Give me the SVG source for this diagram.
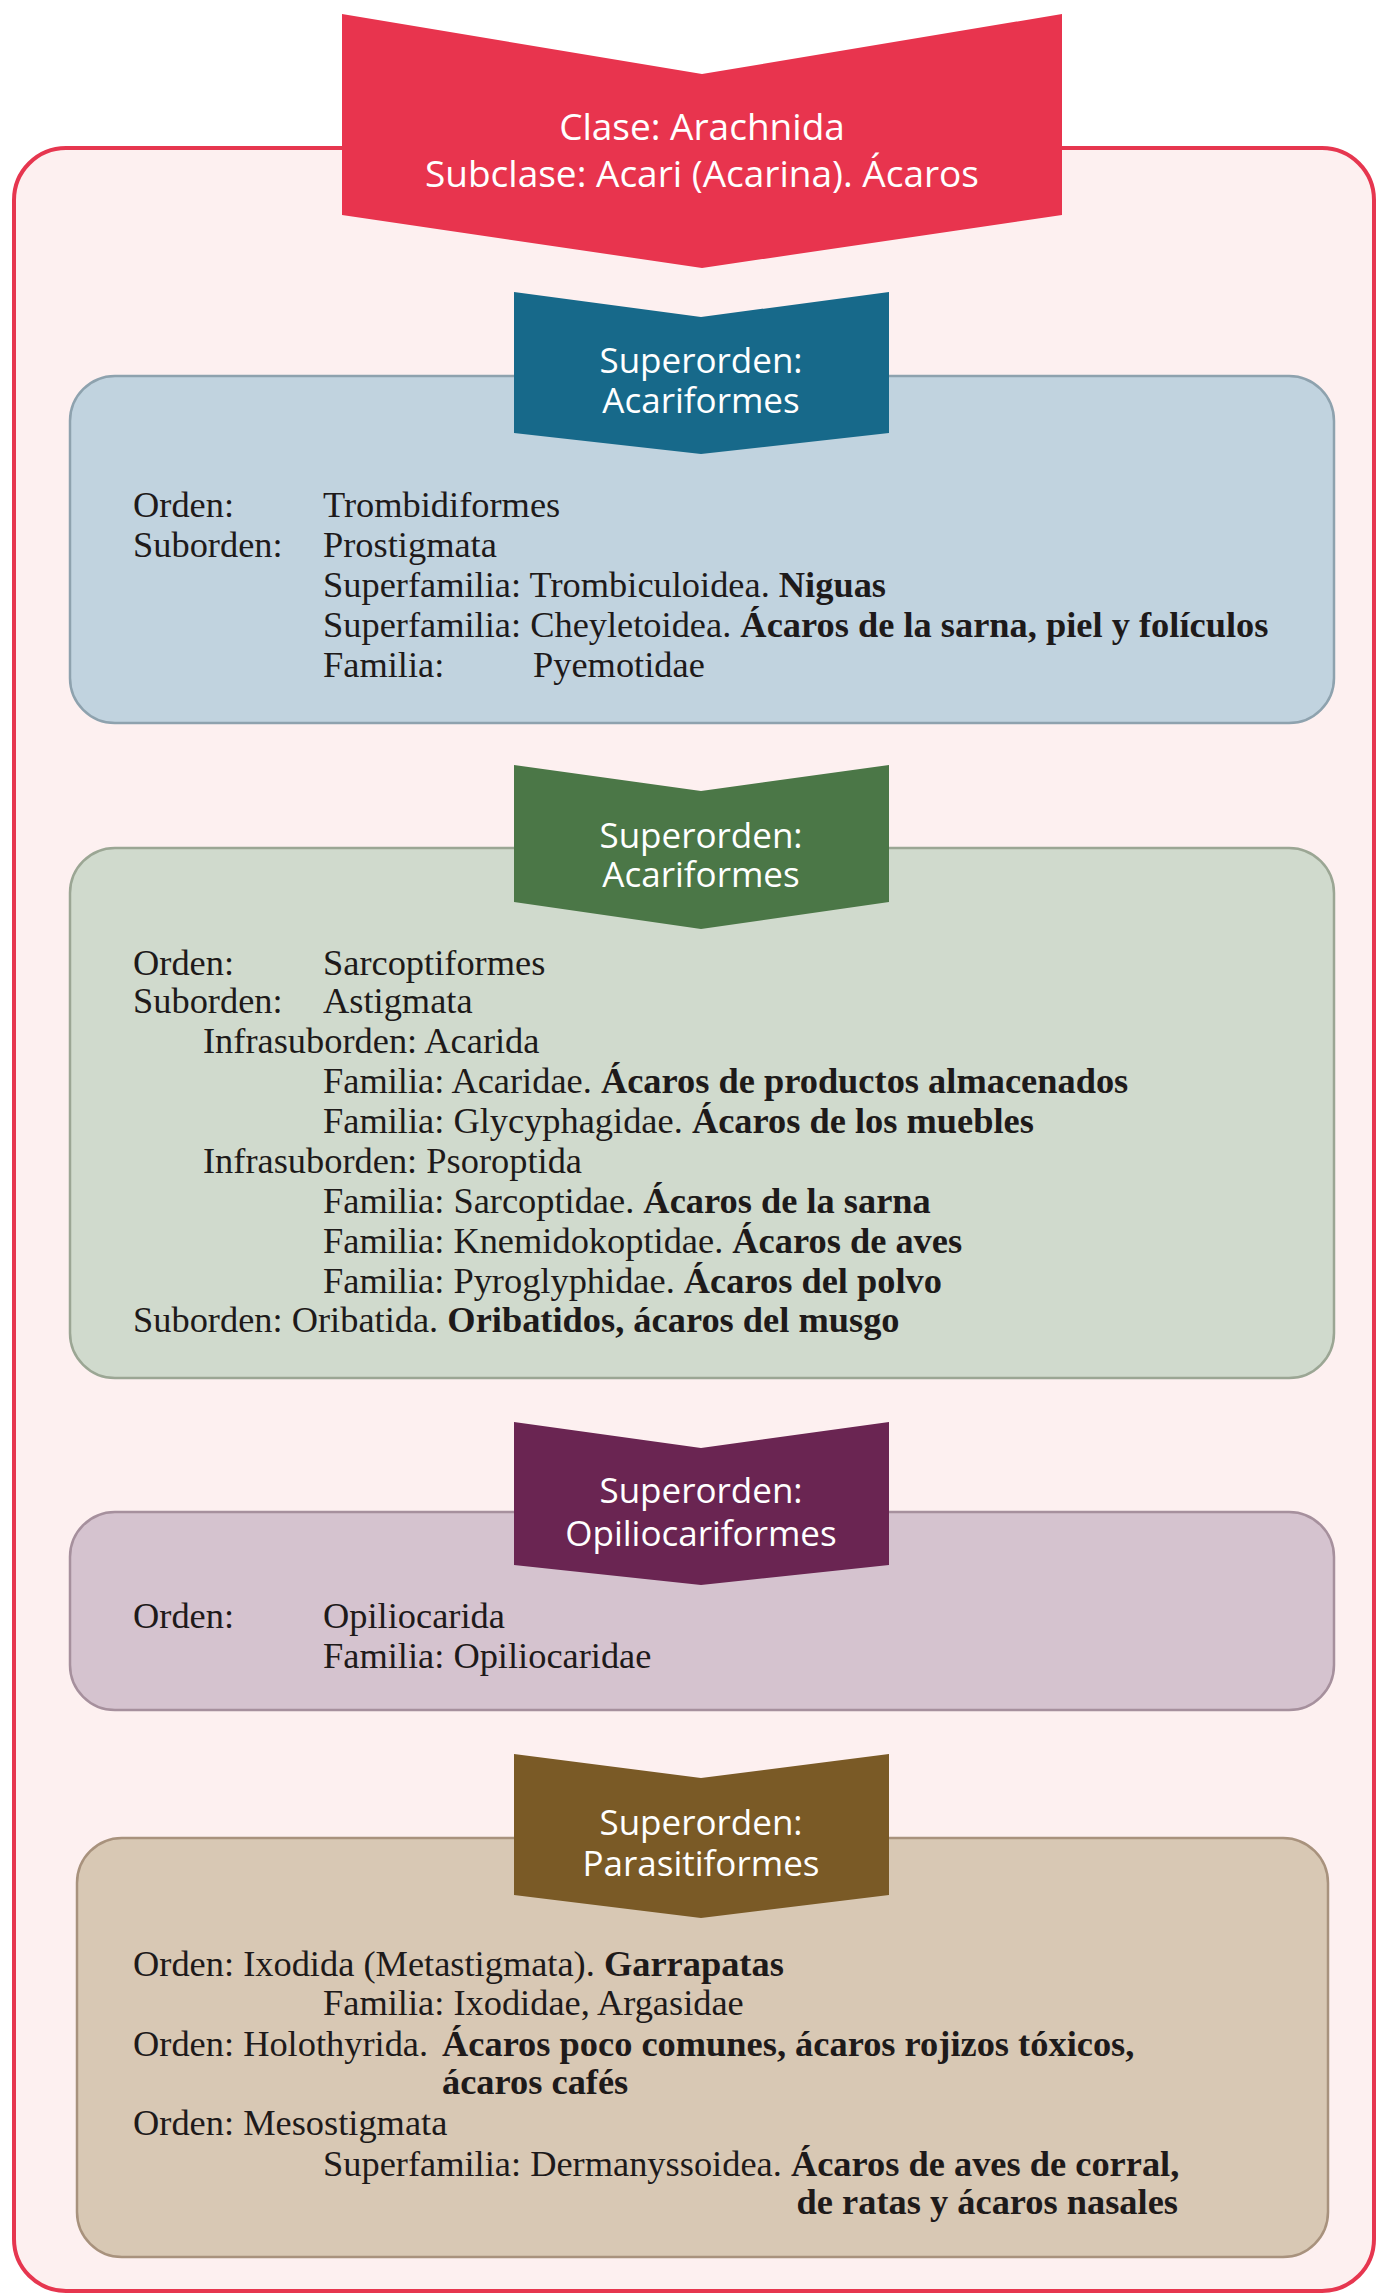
<svg xmlns="http://www.w3.org/2000/svg" width="1376" height="2293" viewBox="0 0 1376 2293">
<style>
.frame{fill:#fdf0f0;stroke:#e6364f;stroke-width:4}
.box{stroke-width:2.5}
.b1{fill:#c1d3df;stroke:#8ea2ae}
.b2{fill:#d0dacd;stroke:#9ba694}
.b3{fill:#d5c3cf;stroke:#a6909d}
.b4{fill:#d8c8b4;stroke:#a8927d}
.head{font-family:"Open Sans","Noto Sans",sans-serif;fill:#ffffff;text-anchor:middle}
.t{font-family:"Liberation Serif","Times New Roman",serif;font-size:36.4px;fill:#1e1a1a}
.bd{font-weight:bold}
</style>
<rect width="1376" height="2293" fill="#ffffff"/>
<rect class="frame" x="14" y="148" width="1360" height="2143" rx="52" ry="52"/>

<g id="connectors"></g>

<g id="box-trombidiformes">
<rect class="box b1" x="70" y="376" width="1264" height="347" rx="45" ry="45"/>
<text class="t" y="517"><tspan x="133">Orden:</tspan><tspan x="323">Trombidiformes</tspan></text>
<text class="t" y="557"><tspan x="133">Suborden:</tspan><tspan x="323">Prostigmata</tspan></text>
<text class="t" x="323" y="597">Superfamilia: Trombiculoidea. <tspan class="bd">Niguas</tspan></text>
<text class="t" x="323" y="637">Superfamilia: Cheyletoidea. <tspan class="bd">Ácaros de la sarna, piel y folículos</tspan></text>
<text class="t" y="677"><tspan x="323">Familia:</tspan><tspan x="533">Pyemotidae</tspan></text>
</g>

<g id="box-sarcoptiformes">
<rect class="box b2" x="70" y="848" width="1264" height="530" rx="45" ry="45"/>
<text class="t" y="975"><tspan x="133">Orden:</tspan><tspan x="323">Sarcoptiformes</tspan></text>
<text class="t" y="1013"><tspan x="133">Suborden:</tspan><tspan x="323">Astigmata</tspan></text>
<text class="t" x="203" y="1053">Infrasuborden: Acarida</text>
<text class="t" x="323" y="1093">Familia: Acaridae. <tspan class="bd">Ácaros de productos almacenados</tspan></text>
<text class="t" x="323" y="1133">Familia: Glycyphagidae. <tspan class="bd">Ácaros de los muebles</tspan></text>
<text class="t" x="203" y="1173">Infrasuborden: Psoroptida</text>
<text class="t" x="323" y="1213">Familia: Sarcoptidae. <tspan class="bd">Ácaros de la sarna</tspan></text>
<text class="t" x="323" y="1253">Familia: Knemidokoptidae. <tspan class="bd">Ácaros de aves</tspan></text>
<text class="t" x="323" y="1293">Familia: Pyroglyphidae. <tspan class="bd">Ácaros del polvo</tspan></text>
<text class="t" x="133" y="1332">Suborden: Oribatida. <tspan class="bd">Oribatidos, ácaros del musgo</tspan></text>
</g>

<g id="box-opiliocarida">
<rect class="box b3" x="70" y="1512" width="1264" height="198" rx="45" ry="45"/>
<text class="t" y="1628"><tspan x="133">Orden:</tspan><tspan x="323">Opiliocarida</tspan></text>
<text class="t" x="323" y="1668">Familia: Opiliocaridae</text>
</g>

<g id="box-parasitiformes">
<rect class="box b4" x="77" y="1838" width="1251" height="419" rx="45" ry="45"/>
<text class="t" x="133" y="1976">Orden: Ixodida (Metastigmata). <tspan class="bd">Garrapatas</tspan></text>
<text class="t" x="323" y="2015">Familia: Ixodidae, Argasidae</text>
<text class="t" y="2056"><tspan x="133">Orden: Holothyrida. </tspan><tspan class="bd" x="442">Ácaros poco comunes, ácaros rojizos tóxicos,</tspan></text>
<text class="t bd" x="442" y="2094">ácaros cafés</text>
<text class="t" x="133" y="2135">Orden: Mesostigmata</text>
<text class="t" x="323" y="2176">Superfamilia: Dermanyssoidea. <tspan class="bd">Ácaros de aves de corral,</tspan></text>
<text class="t bd" x="1178" y="2214" text-anchor="end">de ratas y ácaros nasales</text>
</g>

<g id="head-clase">
<polygon points="342,14 702,74 1062,14 1062,215 702,268 342,215" fill="#e8344e"/>
<text class="head" font-size="37"><tspan x="702" y="140">Clase: Arachnida</tspan><tspan x="702" y="187">Subclase: Acari (Acarina). Ácaros</tspan></text>
</g>

<g id="head-acariformes-1">
<polygon points="514,292 701,317 889,292 889,433 701,454 514,433" fill="#17698a"/>
<text class="head" font-size="35"><tspan x="701" y="373">Superorden:</tspan><tspan x="701" y="413">Acariformes</tspan></text>
</g>

<g id="head-acariformes-2">
<polygon points="514,765 701,791 889,765 889,902 701,929 514,902" fill="#4b7747"/>
<text class="head" font-size="35"><tspan x="701" y="848">Superorden:</tspan><tspan x="701" y="887">Acariformes</tspan></text>
</g>

<g id="head-opiliocariformes">
<polygon points="514,1422 701,1448 889,1422 889,1565 701,1585 514,1565" fill="#6a2552"/>
<text class="head" font-size="35"><tspan x="701" y="1503">Superorden:</tspan><tspan x="701" y="1546">Opiliocariformes</tspan></text>
</g>

<g id="head-parasitiformes">
<polygon points="514,1754 701,1778 889,1754 889,1895 701,1918 514,1895" fill="#7a5a26"/>
<text class="head" font-size="35"><tspan x="701" y="1835">Superorden:</tspan><tspan x="701" y="1876">Parasitiformes</tspan></text>
</g>
</svg>
